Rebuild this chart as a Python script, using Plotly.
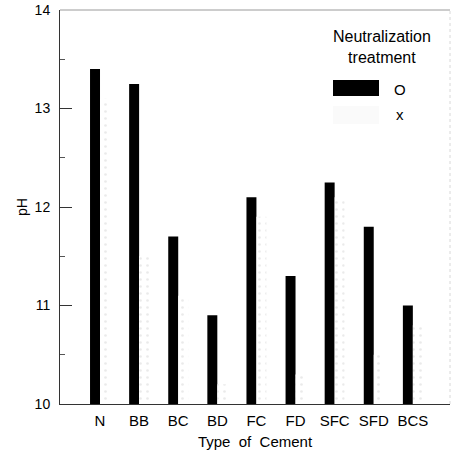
import plotly.graph_objects as go

categories = ["N", "BB", "BC", "BD", "FC", "FD", "SFC", "SFD", "BCS"]
ph_o = [13.4, 13.25, 11.7, 10.9, 12.1, 11.3, 12.25, 11.8, 11.0]
ph_x = [13.1, 11.5, 11.1, 10.2, 11.9, 10.3, 12.1, 10.5, 10.8]
y_ticks = [10, 11, 12, 13, 14]

FONT = "Liberation Sans, Arial, Helvetica, sans-serif"

fig = go.Figure()
fig.add_trace(go.Bar(
    x=categories, y=ph_o, name="O",
    marker=dict(color="black", line=dict(width=0)),
))
fig.add_trace(go.Bar(
    x=categories, y=ph_x, name="x",
    marker=dict(color="white", line=dict(width=0),
                pattern=dict(shape=".", fgcolor="#d6d6d6", bgcolor="white",
                             size=7, solidity=0.12)),
))

fig.update_layout(
    width=452, height=453,
    margin=dict(l=60, r=2, t=10, b=49),
    paper_bgcolor="white", plot_bgcolor="white",
    barmode="group", bargap=0.49, bargroupgap=0,
    showlegend=False,
    font=dict(family=FONT, size=14, color="black"),
    xaxis=dict(
        type="category", range=[-1.023, 8.95],
        showline=True, linecolor="#333333", linewidth=1,
        ticks="", showgrid=False, zeroline=False,
        tickfont=dict(size=15), ticklabelstandoff=3,
        title=dict(text="Type  of  Cement", font=dict(size=15), standoff=8),
    ),
    yaxis=dict(
        range=[10, 14], tickvals=y_ticks,
        showline=True, linecolor="#333333", linewidth=1,
        ticks="inside", ticklen=12, tickcolor="#333333", tickwidth=1,
        minor=dict(dtick=0.5, ticks="inside", ticklen=5, tickcolor="#555555", tickwidth=1),
        showgrid=False, zeroline=False,
        tickfont=dict(size=14), ticklabelstandoff=6,
        title=dict(text="pH", font=dict(size=14), standoff=3),
    ),
)

# frame: top and right borders (faint)
fig.add_shape(type="line", xref="paper", yref="paper", x0=0, x1=1, y0=1, y1=1,
              line=dict(color="#9a9a9a", width=1))
fig.add_shape(type="line", xref="paper", yref="paper", x0=1, x1=1, y0=0, y1=1,
              line=dict(color="#d8d8d8", width=1, dash="dot"))

# legend drawn manually
def px_x(p):
    return (p - 60) / 390.0

def px_y(p):
    return (404 - p) / 394.0

fig.add_annotation(text="Neutralization<br>treatment", xref="paper", yref="paper",
                   x=px_x(382), y=px_y(47), showarrow=False, align="center",
                   font=dict(size=16, color="black"), xanchor="center", yanchor="middle")
fig.add_shape(type="rect", xref="paper", yref="paper",
              x0=px_x(333), x1=px_x(379), y0=px_y(96), y1=px_y(80),
              fillcolor="black", line=dict(width=0))
fig.add_shape(type="rect", xref="paper", yref="paper",
              x0=px_x(333), x1=px_x(379), y0=px_y(124), y1=px_y(106),
              fillcolor="#fafafa", line=dict(width=0))
fig.add_annotation(text="O", xref="paper", yref="paper", x=px_x(400), y=px_y(89),
                   showarrow=False, font=dict(size=15), xanchor="center", yanchor="middle")
fig.add_annotation(text="x", xref="paper", yref="paper", x=px_x(400), y=px_y(115),
                   showarrow=False, font=dict(size=15), xanchor="center", yanchor="middle")

fig.write_html("out.html", config={"displayModeBar": False},
               post_script="document.body.style.margin='0';")
